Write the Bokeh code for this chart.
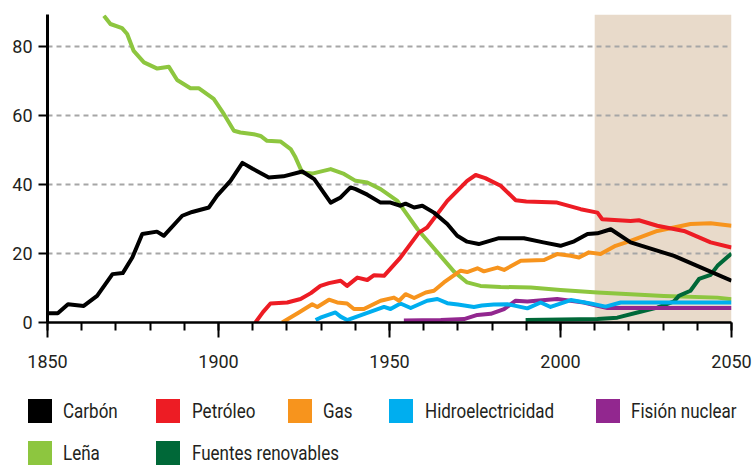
from bokeh.plotting import figure
from bokeh.models import FixedTicker, BoxAnnotation, Div
from bokeh.layouts import column
from bokeh.embed import file_html
from bokeh.resources import INLINE

# ---------------- data ----------------
coal_year = [1850, 1853, 1856, 1860.6, 1864.5, 1869, 1872, 1874.8, 1877.7, 1882, 1884,
             1889.4, 1892.3, 1897.2, 1899.6, 1903.5, 1907, 1910, 1914.7, 1919, 1924.5,
             1928, 1932.8, 1935.7, 1938.6, 1940.1, 1943.5, 1947.4, 1950.3, 1953.2, 1954.7,
             1957.2, 1959.6, 1963, 1966.9, 1969.8, 1972.7, 1976.1, 1982, 1989.3, 1995,
             2000, 2004, 2007.9, 2010.8, 2014.7, 2020.5, 2033.2, 2050]
coal_val = [2.7, 2.7, 5.3, 4.8, 7.7, 14, 14.3, 18.8, 25.6, 26.3, 25.1,
            30.9, 32, 33.3, 36.7, 41, 46.2, 44.5, 42, 42.3, 43.7,
            41.5, 34.7, 36.2, 39.1, 38.6, 37, 34.7, 34.7, 33.8, 34.4,
            33.3, 33.8, 31.8, 28.5, 25.1, 23.4, 22.7, 24.4, 24.4, 23.2,
            22.2, 23.5, 25.6, 25.8, 27, 23.2, 19.3, 12.1]

oil_year = [1910.8, 1913, 1915.2, 1920.1, 1924, 1927, 1929.8, 1932.3, 1935.7, 1937.6,
            1940.6, 1943.5, 1945.5, 1948.4, 1953.2, 1958.6, 1961, 1966.9, 1972.7, 1975.2,
            1978, 1982.5, 1986.9, 1990, 1999, 2005.9, 2010.8, 2012.2, 2020.5, 2022.9,
            2028.3, 2036.1, 2043.9, 2050]
oil_val = [0, 3, 5.5, 5.8, 6.8, 8.5, 10.6, 11.4, 12.1, 10.6,
           13, 12.3, 13.7, 13.5, 18.8, 26, 27.5, 35.2, 41, 42.7,
           41.8, 39.6, 35.4, 35, 34.7, 32.8, 31.8, 29.9, 29.4, 29.6,
           28, 26.5, 23.2, 21.7]

gas_year = [1918.6, 1923.5, 1927.4, 1928.9, 1932.3, 1934.7, 1937.6, 1939.6, 1942.5, 1947.4,
            1951.3, 1952.8, 1954.7, 1957.2, 1960.6, 1963, 1965.9, 1970.8, 1972.7, 1975.7,
            1977.6, 1981.6, 1983.5, 1988.4, 1995.2, 1999, 2003, 2005.4, 2008.3, 2011.7,
            2016.1, 2020.5, 2028.3, 2038, 2043.9, 2050]
gas_val = [0, 2.9, 5.3, 4.5, 6.6, 5.8, 5.5, 3.9, 3.9, 6.3,
           7.2, 6.3, 8.2, 7.1, 8.7, 9.2, 11.6, 15, 14.6, 15.7,
           14.8, 15.9, 15.2, 17.9, 18.1, 19.8, 19.3, 18.8, 20.3, 19.8,
           22.2, 23.6, 26.5, 28.5, 28.7, 28]

hydro_year = [1928.4, 1929.8, 1934.2, 1935.7, 1937.6, 1942.5, 1948.4, 1950.3, 1953.2, 1956.2,
              1961, 1964, 1966.9, 1970, 1974.7, 1977, 1980.5, 1984.5, 1990.3, 1994.2,
              1997.1, 2003, 2008.8, 2013.2, 2017.6, 2050]
hydro_val = [0.7, 1.4, 2.9, 1.7, 0.7, 2.4, 4.5, 3.9, 5.5, 4.2,
             6.3, 6.8, 5.6, 5.2, 4.5, 4.9, 5.2, 5.3, 4.1, 5.8,
             4.5, 6.5, 5.5, 4.6, 5.8, 5.8]

nuc_year = [1954.2, 1965, 1971.8, 1975.7, 1979.6, 1983.5, 1986.9, 1990.3, 1999, 2006.8,
            2010.8, 2013.7, 2050]
nuc_val = [0.6, 0.7, 1.0, 2.2, 2.5, 3.9, 6.3, 6.1, 6.8, 5.8,
           4.8, 4.2, 4.2]

wood_year = [1866.5, 1868.4, 1871.8, 1873.3, 1875.2, 1878.2, 1882.1, 1885.5, 1887.9, 1891.8,
             1894.3, 1898.6, 1901.6, 1904.5, 1906.4, 1910.3, 1912.3, 1914.2, 1918.1, 1921.1,
             1922.5, 1924.5, 1927.4, 1932.8, 1936.7, 1940.1, 1943.5, 1947.4, 1952.3, 1958.2,
             1964.9, 1968.8, 1972.7, 1976.6, 1982.5, 1991.3, 2000, 2010.8, 2030.2, 2045.9, 2050]
wood_val = [88.8, 86.4, 85.2, 83.5, 78.6, 75.3, 73.5, 74, 70.2, 67.8,
            67.8, 64.7, 60.3, 55.5, 55, 54.5, 54, 52.6, 52.4, 50.2,
            47.8, 43.4, 43.1, 44.4, 43, 41, 40.5, 38.6, 35.2, 27,
            19.3, 14.8, 11.6, 10.6, 10.3, 10.1, 9.4, 8.7, 7.7, 7.2, 6.7]

ren_year = [1989.8, 2010.8, 2016.6, 2022.5, 2028.3, 2033.2, 2034.6, 2038, 2040.5, 2043.9,
            2045.9, 2050]
ren_val = [0.7, 1.0, 1.4, 2.9, 4.3, 6.1, 7.7, 9.2, 12.6, 13.8,
           16.4, 20]

series_names = ["Carbón", "Petróleo", "Gas", "Hidroelectricidad", "Fisión nuclear",
                "Leña", "Fuentes renovables"]
series_colors = ["#000000", "#ED1C24", "#F7941D", "#00AEEF", "#92278F", "#8DC63F", "#006838"]

x_major_ticks = [1850, 1900, 1950, 2000, 2050]
x_minor_ticks = list(range(1850, 2051, 10))
y_ticks = [0, 20, 40, 60, 80]
y_grid_ticks = [20, 40, 60, 80]
projection_start, projection_end = 2010, 2050

FONT = "Roboto"
TEXT_COLOR = "#231F20"

# ---------------- main chart ----------------
p = figure(width=754, height=380, x_range=(1850, 2050), y_range=(0, 89.15),
           output_backend="svg", toolbar_location=None,
           min_border_left=47, min_border_right=23, min_border_top=14, min_border_bottom=58)
p.outline_line_color = None
p.background_fill_color = "white"

p.add_layout(BoxAnnotation(left=projection_start, right=projection_end,
                           fill_color="#E8DACA", fill_alpha=1.0, line_color=None, level="image"))

p.xgrid.visible = False
p.ygrid.ticker = FixedTicker(ticks=y_grid_ticks)
p.ygrid.grid_line_color = "#A6A6A6"
p.ygrid.grid_line_dash = "5 4"
p.ygrid.grid_line_width = 2

data = {
    "Carbón": (coal_year, coal_val),
    "Petróleo": (oil_year, oil_val),
    "Gas": (gas_year, gas_val),
    "Hidroelectricidad": (hydro_year, hydro_val),
    "Fisión nuclear": (nuc_year, nuc_val),
    "Leña": (wood_year, wood_val),
    "Fuentes renovables": (ren_year, ren_val),
}
color_of = dict(zip(series_names, series_colors))
for name in ["Leña", "Fuentes renovables", "Fisión nuclear", "Hidroelectricidad", "Gas", "Petróleo", "Carbón"]:
    xs, ys = data[name]
    p.line(xs, ys, line_color=color_of[name], line_width=4, line_join="round")

xa = p.xaxis[0]
xa.ticker = FixedTicker(ticks=x_major_ticks, minor_ticks=x_minor_ticks)
xa.axis_line_width = 2.5
xa.axis_line_color = "black"
xa.major_tick_out = 15
xa.major_tick_in = 0
xa.minor_tick_out = 8
xa.minor_tick_in = 0
xa.major_tick_line_width = 2
xa.minor_tick_line_width = 2
xa.major_tick_line_color = "black"
xa.minor_tick_line_color = "black"
xa.major_label_standoff = 17
xa.major_label_text_font = FONT
xa.major_label_text_font_size = "18px"
xa.major_label_text_color = TEXT_COLOR

ya = p.yaxis[0]
ya.ticker = FixedTicker(ticks=y_ticks)
ya.axis_line_width = 3
ya.axis_line_color = "black"
ya.major_tick_out = 9
ya.major_tick_in = 0
ya.major_tick_line_width = 2
ya.major_tick_line_color = "black"
ya.minor_tick_line_color = None
ya.major_label_standoff = 6
ya.major_label_text_font = FONT
ya.major_label_text_font_size = "18px"
ya.major_label_text_color = TEXT_COLOR

# ---------------- legend (below the chart) ----------------
LEG_W, LEG_H = 754, 86
SQ = 24
sq_left = [27.7, 156, 288.3, 389, 596, 27.7, 156]
txt_left = [63.3, 191.7, 323, 425, 631, 63.3, 191.7]
row_top = [19, 19, 19, 19, 19, 61, 61]

parts = []
for name, col, sx, tx, ty in zip(series_names, series_colors, sq_left, txt_left, row_top):
    parts.append(
        f'<div style="position:absolute;left:{sx}px;top:{ty}px;width:{SQ}px;height:{SQ}px;'
        f'background:{col};"></div>')
    parts.append(
        f'<span style="position:absolute;left:{tx}px;top:{ty}px;height:{SQ}px;line-height:{SQ}px;'
        f'white-space:nowrap;transform:scaleX(0.81);transform-origin:0 50%;">{name}</span>')
legend_html = (
    f'<div style="position:relative;width:{LEG_W}px;height:{LEG_H}px;overflow:hidden;'
    f'font-family:{FONT},sans-serif;font-size:21px;color:{TEXT_COLOR};">'
    + "".join(parts) + "</div>")
legend = Div(text=legend_html, width=LEG_W, height=LEG_H, margin=0)

layout = column(p, legend, spacing=0)
open("out.html", "w").write(file_html(layout, INLINE))
